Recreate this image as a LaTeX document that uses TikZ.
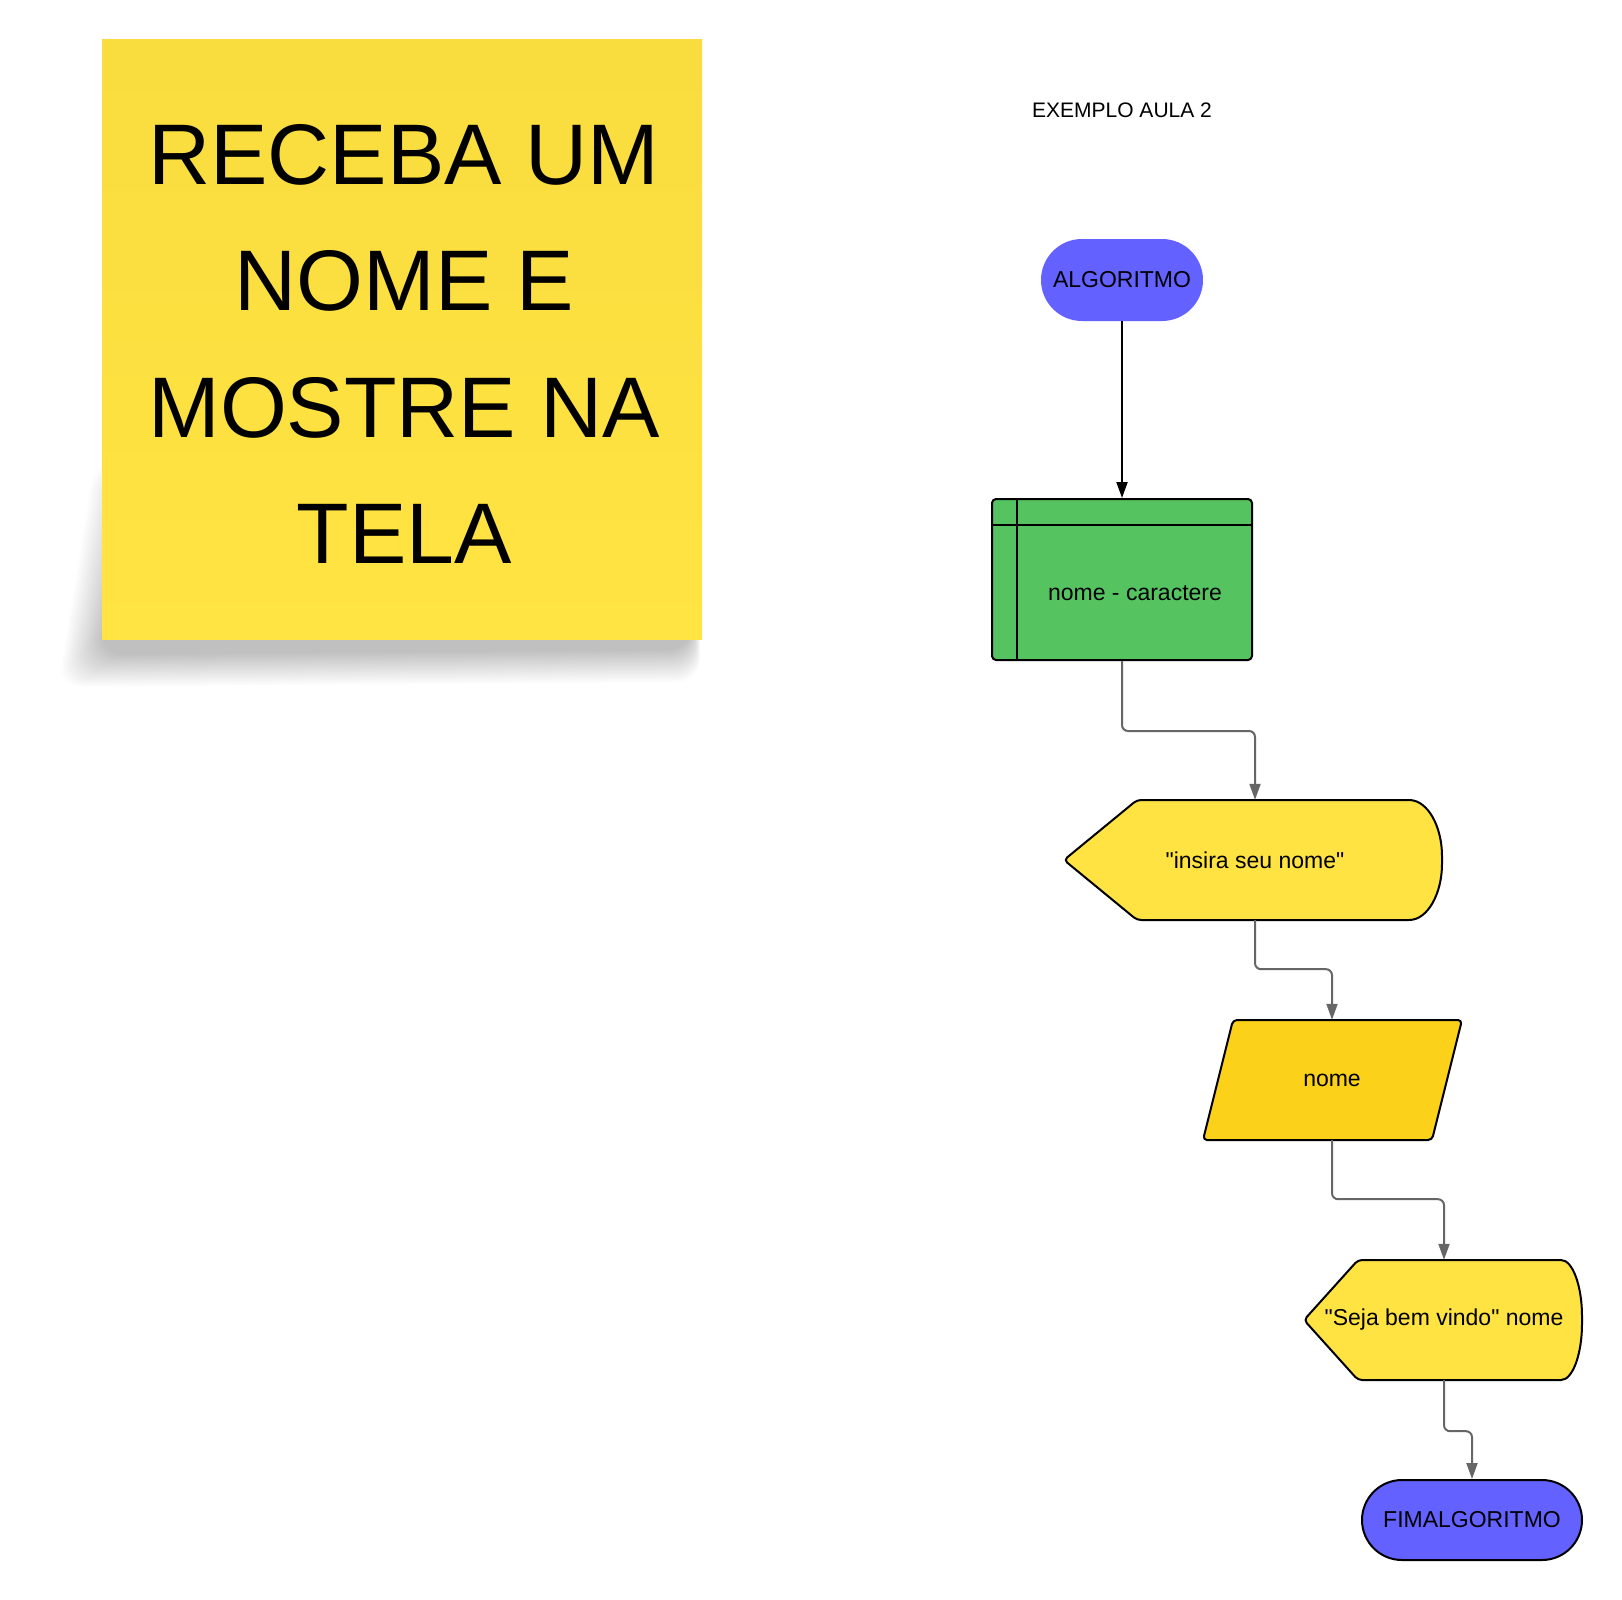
\documentclass[tikz,border=0pt]{standalone}
\usepackage{fontspec}
\setmainfont{Liberation Sans}
\usetikzlibrary{shapes.misc,arrows.meta,calc}
\definecolor{algblue}{HTML}{6361FF}
\definecolor{declgreen}{HTML}{55C460}
\definecolor{dispyellow}{HTML}{FFE343}
\definecolor{parayellow}{HTML}{FBD11A}
\definecolor{stickytop}{HTML}{F9DC3E}
\definecolor{stickybot}{HTML}{FFE443}
\definecolor{conngray}{HTML}{666666}
\begin{document}
\begin{tikzpicture}[x=1pt,y=-1pt,
  lbl/.style={font=\fontsize{23}{27}\selectfont, text=black, inner sep=0pt},
  terminal/.style={rounded rectangle, lbl, fill=algblue, minimum width=#1, minimum height=80pt},
  outline/.style={draw=black, line width=2pt, line join=round},
  conn/.style={draw=conngray, line width=2pt, rounded corners=6pt, -{Triangle[length=16pt,width=11pt]}},
  firstarrow/.style={draw=black, line width=2pt, -{Triangle[length=16pt,width=11pt]}}]
\fill[white] (0,0) rectangle (1622,1600);
\useasboundingbox (0,0) rectangle (1622,1600);

% sticky note shadow (soft, layered)
\foreach \r in {0,2,...,40} {
  \fill[black, opacity=0.012, rounded corners=24pt]
    (135-\r,500-\r) -- (694+\r*0.2,500-\r) -- (692+\r*0.2,650+\r*0.8) -- (98-\r,655+\r*0.8) -- cycle;
}
% sticky note
\shade[top color=stickytop, bottom color=stickybot] (102,40) rectangle (702,639);
\node[font=\fontsize{86}{126.5}\selectfont, align=center, anchor=north, inner sep=0pt, text=black]
  (note) at (404,124) {RECEBA UM\\NOME E\\MOSTRE NA\\TELA};

% title
\node[font=\fontsize{21}{25}\selectfont, anchor=base, inner sep=0pt] (title) at (1122,118) {EXEMPLO AULA 2};

% start
\node[terminal=162pt, minimum height=82pt] (alg) at (1122,280) {ALGORITMO};

% declaration box
\node[outline, fill=declgreen, rounded corners=4pt, minimum width=260pt, minimum height=161pt, inner sep=0pt] (decl) at (1122,579.5) {};
\draw[outline] ($(decl.north west)+(26,0)$) -- ($(decl.south west)+(26,0)$);
\draw[outline] ($(decl.north west)+(0,27)$) -- ($(decl.north east)+(0,27)$);
\node[lbl] (decltxt) at (1135,593) {nome - caractere};

% display 1
\filldraw[outline, fill=dispyellow, rounded corners=4pt]
  (1137,800) -- (1405,800) .. controls (1428,800) and (1442,827) .. (1442,860)
  .. controls (1442,893) and (1428,920) .. (1405,920) -- (1137,920) -- (1064,860) -- cycle;
\node[lbl, minimum width=378pt, minimum height=120pt] (disp1) at (1255,860) {\textquotedbl insira seu nome\textquotedbl};

% input parallelogram
\filldraw[outline, fill=parayellow, rounded corners=4pt]
  (1233,1020) -- (1462,1020) -- (1432,1140) -- (1203,1140) -- cycle;
\node[lbl, minimum width=229pt, minimum height=120pt] (para) at (1332,1080) {nome};

% display 2
\filldraw[outline, fill=dispyellow, rounded corners=4pt]
  (1358,1260) -- (1557,1260) .. controls (1573,1260) and (1582,1287) .. (1582,1320)
  .. controls (1582,1353) and (1573,1380) .. (1557,1380) -- (1358,1380) -- (1304,1320) -- cycle;
\node[lbl, minimum width=278pt, minimum height=120pt] (disp2) at (1444,1320) {\textquotedbl Seja bem vindo\textquotedbl{} nome};

% end
\node[terminal=220pt, draw=black, line width=2pt] (fim) at (1472,1520) {FIMALGORITMO};

% connectors
\draw[firstarrow] (alg.south) -- (decl.north);
\draw[conn] (decl.south) -- ++(0,70) -| (disp1.north);
\draw[conn] (disp1.south) -- ++(0,49) -| (para.north);
\draw[conn] (para.south) -- ++(0,59) -| (disp2.north);
\draw[conn] (disp2.south) -- ++(0,51) -| (fim.north);
\end{tikzpicture}
\end{document}
